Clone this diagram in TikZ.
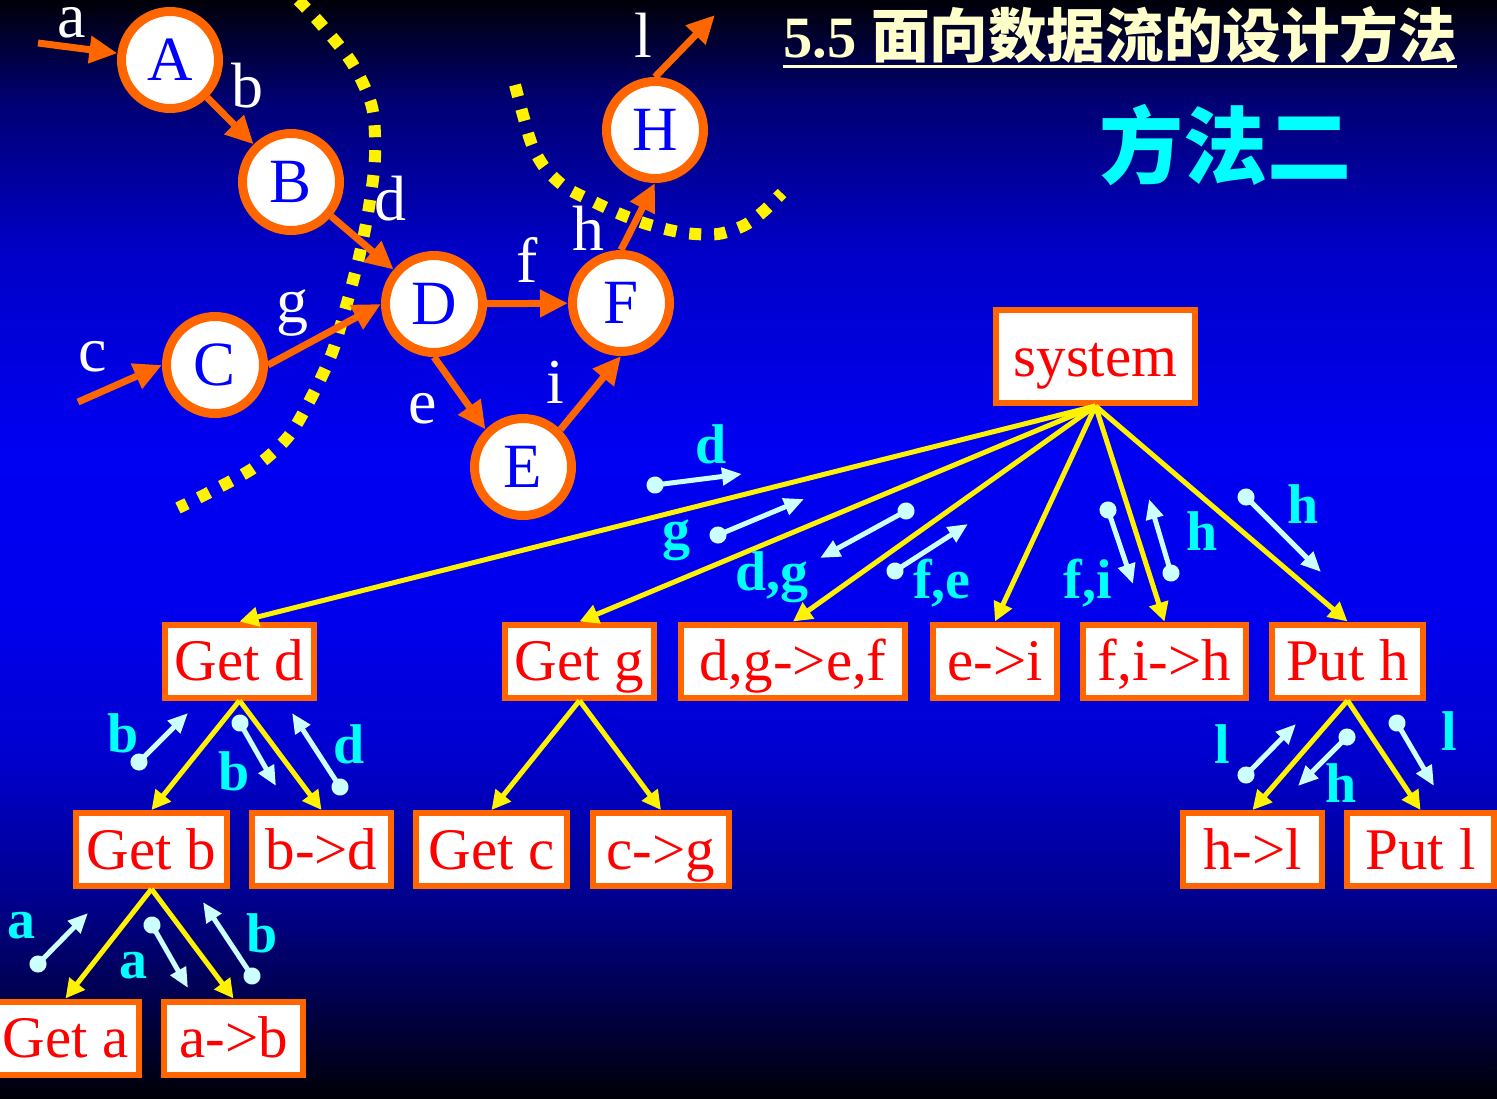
\documentclass[tikz,border=0pt]{standalone}
\usepackage{fontspec}
\setmainfont{Liberation Serif}
\newfontfamily\cjk{Noto Sans CJK SC}
\usetikzlibrary{arrows.meta}
\definecolor{orangeln}{RGB}{255,102,0}
\definecolor{flowcyan}{RGB}{204,255,255}
\definecolor{labcyan}{RGB}{0,255,255}
\definecolor{cream}{RGB}{255,255,204}
\pgfdeclareverticalshading{slidebg}{100bp}{rgb(0bp)=(0,0,0.03); rgb(25bp)=(0,0,0.03); rgb(29.5bp)=(0,0,0.3); rgb(34bp)=(0,0,0.55); rgb(40.4bp)=(0,0,0.8); rgb(46.8bp)=(0,0,0.93); rgb(54.5bp)=(0,0,0.95); rgb(63.6bp)=(0,0,0.78); rgb(70.4bp)=(0,0,0.45); rgb(75bp)=(0,0,0.03); rgb(100bp)=(0,0,0.03)}

\begin{document}
\begin{tikzpicture}[x=1pt, y=-1pt,
    bubble/.style={circle, draw=orangeln, line width=9pt, fill=white, text=blue, minimum size=97pt, inner sep=0pt, font=\fontsize{63}{63}\selectfont},
    box/.style={rectangle, draw=orangeln, line width=6pt, fill=white, text=red, inner sep=0pt, text height=52pt, text depth=13pt, minimum height=73pt, font=\fontsize{59}{59}\selectfont},
    flow/.style={draw=orangeln, line width=7pt, -{Triangle[length=28pt, width=26pt]}},
    call/.style={draw=yellow, line width=5pt, -{Triangle[length=19pt, width=19pt]}},
    pass/.style={draw=flowcyan, line width=5pt, {Circle[length=17pt]}-{Triangle[length=20pt, width=17pt]}, shorten <=-8.5pt},
    elabel/.style={text=white, anchor=base, inner sep=0pt, font=\fontsize{64}{64}\selectfont},
    dlabel/.style={text=labcyan, anchor=base, inner sep=0pt, font=\bfseries\fontsize{56}{56}\selectfont},
    cut/.style={draw=yellow, line width=12pt, dash pattern=on 12pt off 13pt}
]
    \useasboundingbox (0,0) rectangle (1497,1098);
    \shade[shading=slidebg] (0,0) rectangle (1497,1098);

    \draw[cut] plot[smooth] coordinates {(298,0) (320,23) (352,63) (372,107) (375,157) (369,207) (360,253) (347,303) (332,353) (310,400) (288,437) (255,467) (210,492) (178,508)};
    \draw[cut] plot[smooth] coordinates {(515,85) (523,115) (532,145) (545,168) (565,187) (590,200) (620,214) (650,225) (685,233) (718,234) (745,225) (765,210) (782,193)};

    \node[anchor=base west, inner sep=0pt, text=cream, font=\fontsize{58.6}{58.6}\selectfont] (title) at (783,57) {\textbf{5.5} {\cjk\bfseries 面向数据流的设计方法}};
    \draw[cream, line width=3pt] ([yshift=-9pt]title.base west) -- ([yshift=-9pt]title.base east);
    \node[text=labcyan, font=\cjk\bfseries\fontsize{84}{84}\selectfont] (method) at (1225,145) {方法二};

    \node[bubble] (A) at (170,60) {A};
    \node[bubble] (B) at (291,182) {B};
    \node[bubble] (C) at (215,365) {C};
    \node[bubble] (D) at (434,304) {D};
    \node[bubble] (E) at (523,467) {E};
    \node[bubble] (F) at (621,303) {F};
    \node[bubble] (H) at (655,130) {H};
    \coordinate (ain) at (38,43);
    \coordinate (cin) at (78,402);
    \coordinate (lout) at (715,15);

    \draw[flow] (ain) -- (A);
    \draw[flow] (A) -- (B);
    \draw[flow] (B) -- (D);
    \draw[flow] (cin) -- (C.west);
    \draw[flow] (C.east) -- (D.west);
    \draw[flow] (D) -- (F);
    \draw[flow] (D.south) -- (E.north west);
    \draw[flow] (E.north east) -- (F.south);
    \draw[flow] (F.north) -- (H.south);
    \draw[flow] (H.north) -- (lout);

    \node[elabel] (la) at (72,37) {a};
    \node[elabel] (lb) at (247,107) {b};
    \node[elabel] (ld) at (390,220) {d};
    \node[elabel] (lc) at (93,371) {c};
    \node[elabel] (lg) at (292,322) {g};
    \node[elabel] (lf) at (527,282) {f};
    \node[elabel] (lh) at (588,250) {h};
    \node[elabel] (le) at (423,423) {e};
    \node[elabel] (li) at (555,403) {i};
    \node[elabel] (ll) at (643,57) {l};

    \node[box, minimum width=199pt, minimum height=93pt] (system) at (1095.5,356.5) {system};
    \node[box, minimum width=149pt] (getd) at (239.5,661) {Get d};
    \node[box, minimum width=149pt] (getg) at (579.5,661) {Get g};
    \node[box, minimum width=224pt] (dgef) at (793,661) {d,g->e,f};
    \node[box, minimum width=124pt] (ei) at (995,661) {e->i};
    \node[box, minimum width=163pt] (fih) at (1164.5,661) {f,i->h};
    \node[box, minimum width=151pt] (puth) at (1347.5,661) {Put h};
    \node[box, minimum width=151pt] (getb) at (151.5,849.5) {Get b};
    \node[box, minimum width=139pt] (bd) at (321.5,849.5) {b->d};
    \node[box, minimum width=151pt] (getc) at (491.5,849.5) {Get c};
    \node[box, minimum width=136pt] (cg) at (661,849.5) {c->g};
    \node[box, minimum width=139pt] (hl) at (1252.5,849.5) {h->l};
    \node[box, minimum width=147pt] (putl) at (1420.5,849.5) {Put l};
    \node[box, minimum width=147pt] (geta) at (65.5,1038) {Get a};
    \node[box, minimum width=139pt] (ab) at (233.5,1038) {a->b};

    \draw[call] (system.south) -- (getd.north);
    \draw[call] (system.south) -- (getg.north);
    \draw[call] (system.south) -- (dgef.north);
    \draw[call] (system.south) -- (ei.north);
    \draw[call] (system.south) -- (fih.north);
    \draw[call] (system.south) -- (puth.north);
    \draw[call] (getd.south) -- (getb.north);
    \draw[call] (getd.south) -- (bd.north);
    \draw[call] (getg.south) -- (getc.north);
    \draw[call] (getg.south) -- (cg.north);
    \draw[call] (getb.south) -- (geta.north);
    \draw[call] (getb.south) -- (ab.north);
    \draw[call] (puth.south) -- (hl.north);
    \draw[call] (puth.south) -- (putl.north);

    \coordinate (d0) at (655,485); \coordinate (d1) at (742,474);
    \coordinate (g0) at (718,535); \coordinate (g1) at (804,499);
    \coordinate (dg0) at (906,511); \coordinate (dg1) at (820,558);
    \coordinate (fe0) at (895,571); \coordinate (fe1) at (968,524);
    \coordinate (fi0) at (1108,510); \coordinate (fi1) at (1133,584);
    \coordinate (hu0) at (1171,573); \coordinate (hu1) at (1149,499);
    \coordinate (hp0) at (1246,497); \coordinate (hp1) at (1321,572);
    \coordinate (bu0) at (139,762); \coordinate (bu1) at (188,713);
    \coordinate (bd0) at (240,723); \coordinate (bd1) at (276,786);
    \coordinate (du0) at (340,787); \coordinate (du1) at (292,713);
    \coordinate (au0) at (38,964); \coordinate (au1) at (88,913);
    \coordinate (ad0) at (152,925); \coordinate (ad1) at (188,988);
    \coordinate (bv0) at (252,976); \coordinate (bv1) at (203,902);
    \coordinate (lu0) at (1246,775); \coordinate (lu1) at (1296,724);
    \coordinate (hd0) at (1347,737); \coordinate (hd1) at (1298,786);
    \coordinate (ld0) at (1397,723); \coordinate (ld1) at (1434,786);

    \draw[pass] (d0) -- (d1);
    \draw[pass] (g0) -- (g1);
    \draw[pass] (dg0) -- (dg1);
    \draw[pass] (fe0) -- (fe1);
    \draw[pass] (fi0) -- (fi1);
    \draw[pass] (hu0) -- (hu1);
    \draw[pass] (hp0) -- (hp1);
    \draw[pass] (bu0) -- (bu1);
    \draw[pass] (bd0) -- (bd1);
    \draw[pass] (du0) -- (du1);
    \draw[pass] (au0) -- (au1);
    \draw[pass] (ad0) -- (ad1);
    \draw[pass] (bv0) -- (bv1);
    \draw[pass] (lu0) -- (lu1);
    \draw[pass] (hd0) -- (hd1);
    \draw[pass] (ld0) -- (ld1);

    \node[dlabel] (td) at (711,463) {d};
    \node[dlabel] (tg) at (676,548) {g};
    \node[dlabel] (tdg) at (772,590) {d,g};
    \node[dlabel] (tfe) at (942,598) {f,e};
    \node[dlabel] (tfi) at (1088,598) {f,i};
    \node[dlabel] (thu) at (1202,550) {h};
    \node[dlabel] (thp) at (1303,523) {h};
    \node[dlabel] (tbu) at (123,752) {b};
    \node[dlabel] (tbd) at (234,790) {b};
    \node[dlabel] (tdu) at (349,763) {d};
    \node[dlabel] (tau) at (21,938) {a};
    \node[dlabel] (tad) at (133,978) {a};
    \node[dlabel] (tbv) at (262,952) {b};
    \node[dlabel] (tlu) at (1222,763) {l};
    \node[dlabel] (thd) at (1341,802) {h};
    \node[dlabel] (tld) at (1449,750) {l};
\end{tikzpicture}
\end{document}
